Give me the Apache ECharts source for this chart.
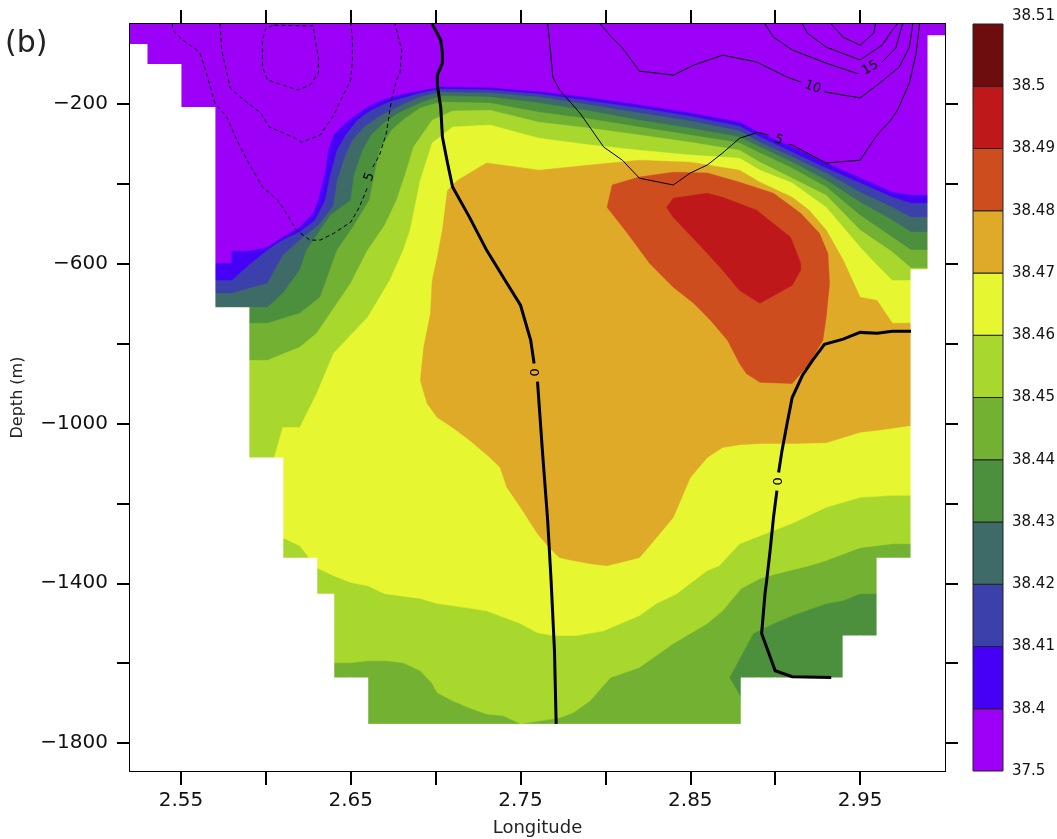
<!DOCTYPE html>
<html>
<head>
<meta charset="utf-8">
<title>Salinity section (b)</title>
<script src="https://cdn.jsdelivr.net/npm/echarts@6/dist/echarts.min.js"></script>
<style>
  html, body { margin: 0; padding: 0; background: #fff; }
  #main { width: 1057px; height: 839px; }
</style>
</head>
<body>
<div id="main"></div>
<script>
// ---- escala de cores (salinidade) ----
var cbarLabels = ['37.5', '38.4', '38.41', '38.42', '38.43', '38.44', '38.45', '38.46', '38.47', '38.48', '38.49', '38.5', '38.51'];
var bandColors = ['#9c00f6', '#4700f6', '#3b40ab', '#3e6b68', '#4c8f3d', '#72b132', '#a8d72e', '#e6f731', '#dfaa28', '#cd4d1f', '#bf181b', '#6e0d0d'];

// ---- eixos ----
var lonTicks = [2.55, 2.60, 2.65, 2.70, 2.75, 2.80, 2.85, 2.90, 2.95];
var lonLabels = [2.55, 2.65, 2.75, 2.85, 2.95];
var depthTicks = [-1800, -1600, -1400, -1200, -1000, -800, -600, -400, -200];
var depthLabels = [-1800, -1400, -1000, -600, -200];

// ---- isolinhas da salinidade [lon, prof] (regiao S >= nivel) ----
var iso3840 = [[2.56,-599],[2.58,-599],[2.58,-569],[2.59,-569],[2.601,-559],[2.61,-534],[2.62,-509],[2.628,-474],[2.631,-441],[2.635,-373],[2.637,-316],[2.64,-278],[2.647,-248],[2.66,-208],[2.669,-190],[2.679,-178],[2.691,-168],[2.703,-158],[2.732,-160],[2.761,-170],[2.791,-185],[2.82,-203],[2.85,-223],[2.879,-246],[2.891,-273],[2.91,-308],[2.93,-348],[2.95,-386],[2.969,-421],[2.98,-429],[3.0,-429],[3.0,-1870],[2.56,-1870]];
var iso3841 = [[2.56,-642],[2.58,-642],[2.59,-604],[2.601,-566],[2.61,-541],[2.62,-521],[2.629,-491],[2.635,-441],[2.638,-378],[2.642,-316],[2.647,-278],[2.654,-241],[2.662,-216],[2.673,-195],[2.691,-173],[2.703,-163],[2.732,-165],[2.761,-175],[2.791,-193],[2.82,-210],[2.85,-231],[2.879,-256],[2.891,-283],[2.91,-321],[2.93,-361],[2.95,-398],[2.969,-434],[2.98,-449],[3.0,-449],[3.0,-1870],[2.56,-1870]];
var iso3842 = [[2.56,-674],[2.58,-674],[2.601,-649],[2.61,-579],[2.62,-541],[2.631,-504],[2.64,-454],[2.642,-391],[2.647,-328],[2.651,-291],[2.658,-258],[2.667,-231],[2.679,-205],[2.691,-183],[2.703,-170],[2.732,-173],[2.761,-183],[2.791,-203],[2.82,-223],[2.85,-243],[2.879,-268],[2.891,-296],[2.91,-333],[2.93,-373],[2.95,-421],[2.969,-459],[2.98,-484],[3.0,-484],[3.0,-1870],[2.56,-1870]];
var iso3843 = [[2.56,-709],[2.601,-709],[2.61,-674],[2.62,-616],[2.624,-566],[2.638,-479],[2.65,-441],[2.652,-378],[2.657,-316],[2.662,-278],[2.67,-246],[2.679,-221],[2.691,-198],[2.703,-180],[2.732,-183],[2.761,-198],[2.791,-218],[2.82,-241],[2.85,-261],[2.879,-283],[2.891,-308],[2.91,-346],[2.93,-391],[2.95,-446],[2.969,-491],[2.98,-521],[3.0,-521],[3.0,-1870],[2.56,-1870]];
var iso3844 = [[2.56,-749],[2.601,-749],[2.62,-724],[2.632,-684],[2.642,-566],[2.652,-504],[2.661,-441],[2.664,-378],[2.667,-316],[2.674,-266],[2.682,-236],[2.691,-210],[2.703,-195],[2.732,-198],[2.761,-221],[2.791,-238],[2.82,-258],[2.85,-278],[2.879,-298],[2.891,-323],[2.91,-361],[2.93,-408],[2.95,-479],[2.969,-534],[2.98,-566],[3.0,-566],[3.0,-1426],[2.96,-1426],[2.95,-1426],[2.94,-1443],[2.93,-1451],[2.91,-1481],[2.899,-1501],[2.887,-1526],[2.873,-1636],[2.88,-1687],[2.88,-1870],[2.56,-1870]];
var iso3845 = [[2.56,-842],[2.601,-842],[2.62,-809],[2.63,-774],[2.65,-649],[2.66,-566],[2.67,-504],[2.677,-441],[2.682,-378],[2.687,-308],[2.698,-241],[2.71,-218],[2.732,-216],[2.761,-246],[2.791,-261],[2.82,-278],[2.85,-296],[2.879,-316],[2.891,-346],[2.91,-386],[2.93,-429],[2.95,-516],[2.969,-571],[2.98,-611],[3.0,-611],[3.0,-1301],[2.98,-1301],[2.969,-1301],[2.95,-1311],[2.93,-1343],[2.92,-1356],[2.901,-1376],[2.891,-1388],[2.88,-1413],[2.869,-1469],[2.86,-1501],[2.84,-1551],[2.82,-1611],[2.803,-1636],[2.791,-1694],[2.781,-1724],[2.773,-1737],[2.75,-1752],[2.74,-1732],[2.73,-1727],[2.72,-1712],[2.71,-1694],[2.701,-1674],[2.698,-1651],[2.691,-1619],[2.681,-1599],[2.671,-1594],[2.66,-1594],[2.65,-1599],[2.64,-1599],[2.56,-1599]];
var iso3846 = [[2.598,-1118],[2.605,-1085],[2.61,-1010],[2.62,-1010],[2.63,-925],[2.64,-824],[2.66,-734],[2.673,-642],[2.681,-566],[2.685,-516],[2.691,-391],[2.698,-298],[2.71,-258],[2.732,-253],[2.761,-286],[2.791,-303],[2.82,-316],[2.85,-328],[2.879,-336],[2.891,-366],[2.91,-398],[2.93,-459],[2.95,-559],[2.96,-604],[2.969,-642],[2.98,-642],[3.0,-642],[3.0,-1180],[2.98,-1180],[2.969,-1180],[2.95,-1185],[2.93,-1210],[2.91,-1250],[2.879,-1301],[2.867,-1356],[2.86,-1368],[2.842,-1426],[2.83,-1451],[2.82,-1481],[2.799,-1519],[2.783,-1531],[2.769,-1531],[2.76,-1524],[2.75,-1501],[2.73,-1469],[2.71,-1456],[2.701,-1451],[2.691,-1438],[2.67,-1426],[2.66,-1406],[2.65,-1398],[2.64,-1381],[2.63,-1361],[2.62,-1306],[2.61,-1286],[2.598,-1286]];
var iso3847 = [[2.691,-892],[2.693,-809],[2.697,-724],[2.698,-642],[2.701,-584],[2.704,-516],[2.707,-416],[2.713,-391],[2.73,-348],[2.761,-366],[2.791,-353],[2.82,-341],[2.85,-346],[2.879,-366],[2.891,-396],[2.91,-434],[2.92,-466],[2.93,-516],[2.94,-591],[2.95,-684],[2.96,-692],[2.969,-749],[2.98,-749],[3.0,-749],[3.0,-1005],[2.98,-1005],[2.96,-1017],[2.95,-1022],[2.93,-1048],[2.91,-1050],[2.891,-1050],[2.879,-1053],[2.869,-1060],[2.86,-1085],[2.85,-1135],[2.84,-1235],[2.83,-1286],[2.82,-1336],[2.801,-1356],[2.791,-1351],[2.781,-1343],[2.773,-1336],[2.767,-1311],[2.76,-1276],[2.75,-1210],[2.742,-1160],[2.738,-1110],[2.732,-1085],[2.72,-1042],[2.71,-1010],[2.701,-985],[2.695,-950]];
var iso3848 = [[2.801,-459],[2.804,-403],[2.82,-383],[2.84,-371],[2.86,-373],[2.879,-396],[2.899,-424],[2.915,-474],[2.926,-524],[2.931,-574],[2.932,-649],[2.93,-734],[2.928,-792],[2.92,-850],[2.91,-900],[2.891,-897],[2.883,-875],[2.879,-850],[2.872,-792],[2.862,-742],[2.852,-699],[2.84,-659],[2.826,-599],[2.813,-524]];
var iso3849 = [[2.836,-459],[2.84,-436],[2.86,-424],[2.869,-434],[2.889,-466],[2.909,-534],[2.915,-599],[2.915,-616],[2.91,-654],[2.891,-699],[2.879,-667],[2.869,-616],[2.86,-574],[2.84,-484]];

// ---- fundo sem dados (coluna: lon inicial, profundidade do fundo) ----
var colLon = [2.52,2.53,2.54,2.55,2.56,2.57,2.58,2.59,2.60,2.61,2.62,2.63,2.64,2.65,2.66,2.67,2.68,2.69,2.70,2.71,2.72,2.73,2.74,2.75,2.76,2.77,2.78,2.79,2.80,2.81,2.82,2.83,2.84,2.85,2.86,2.87,2.88,2.89,2.90,2.91,2.92,2.93,2.94,2.95,2.96,2.97,2.98,2.99];
var colBottom = [-50,-100,-100,-208,-208,-709,-709,-1085,-1085,-1336,-1336,-1426,-1636,-1636,-1752,-1752,-1752,-1752,-1752,-1752,-1752,-1752,-1752,-1752,-1752,-1752,-1752,-1752,-1752,-1752,-1752,-1752,-1752,-1752,-1752,-1752,-1636,-1636,-1636,-1636,-1636,-1636,-1531,-1531,-1336,-1336,-614,-28];

// ---- isolinhas de velocidade ----
var vel0aTop = [[2.698,0],[2.703,-40],[2.704,-73],[2.704,-98],[2.701,-128],[2.701,-153],[2.703,-208],[2.704,-283],[2.707,-348],[2.71,-408],[2.72,-484],[2.73,-566],[2.741,-642],[2.75,-704],[2.756,-792],[2.758,-850]];
var vel0aBot = [[2.76,-895],[2.763,-1075],[2.766,-1243],[2.768,-1393],[2.77,-1569],[2.771,-1752]];
var vel0bTop = [[2.98,-769],[2.969,-769],[2.96,-774],[2.95,-772],[2.94,-789],[2.929,-802],[2.922,-842],[2.916,-880],[2.91,-935],[2.907,-1000],[2.904,-1068],[2.902,-1123]];
var vel0bBot = [[2.901,-1168],[2.899,-1235],[2.897,-1318],[2.895,-1393],[2.894,-1426],[2.892,-1526],[2.9,-1619],[2.91,-1634],[2.933,-1636]];
var vel5a = [[2.766,0],[2.767,-40],[2.769,-133],[2.773,-165],[2.785,-223],[2.799,-308],[2.81,-341],[2.82,-386],[2.84,-403],[2.85,-373],[2.86,-353],[2.869,-323],[2.879,-286],[2.89,-271],[2.896,-278]];
var vel5b = [[2.908,-301],[2.91,-303],[2.93,-348],[2.95,-341],[2.96,-278],[2.968,-241],[2.972,-216],[2.979,-148],[2.983,-73],[2.985,0]];
var vel10a = [[2.797,0],[2.803,-30],[2.81,-60],[2.82,-118],[2.84,-128],[2.852,-103],[2.869,-78],[2.889,-95],[2.907,-133],[2.915,-145]];
var vel10b = [[2.929,-170],[2.95,-185],[2.96,-153],[2.973,-108],[2.979,-58],[2.981,0]];
var vel15a = [[2.894,0],[2.899,-33],[2.91,-65],[2.93,-98],[2.949,-125]];
var vel15b = [[2.963,-95],[2.971,-60],[2.975,0]];
var vel20 = [[2.916,0],[2.919,-23],[2.93,-58],[2.95,-90],[2.963,-53],[2.969,-15],[2.972,0]];
var vel25 = [[2.933,0],[2.94,-33],[2.95,-53],[2.958,-23],[2.959,0]];
var velNeg1a = [[2.545,0],[2.545,-15],[2.551,-40],[2.561,-70],[2.565,-123],[2.57,-198],[2.577,-233],[2.583,-291],[2.589,-341],[2.598,-408],[2.607,-441],[2.611,-466],[2.618,-516],[2.626,-541],[2.632,-541],[2.64,-524],[2.65,-496],[2.655,-459],[2.66,-408]];
var velNeg1b = [[2.663,-358],[2.667,-328],[2.671,-273],[2.674,-190],[2.677,-140],[2.679,-123],[2.68,-65],[2.677,-15],[2.676,0]];
var velNeg2 = [[2.573,0],[2.574,-65],[2.579,-160],[2.587,-190],[2.597,-223],[2.602,-258],[2.616,-283],[2.621,-296],[2.632,-278],[2.64,-228],[2.645,-183],[2.65,-140],[2.651,-90],[2.651,-40],[2.65,0]];
var velNeg3 = [[2.605,-3],[2.628,-5],[2.629,-40],[2.631,-83],[2.631,-123],[2.626,-153],[2.619,-165],[2.61,-153],[2.601,-140],[2.598,-108],[2.598,-40],[2.6,-10],[2.605,-3]];

// rotulos das isolinhas [lon, prof, texto]
var velLabels = [[2.759,-872,'0'],[2.902,-1145,'0'],[2.902,-290,'5'],[2.922,-158,'10'],[2.956,-110,'15'],[2.661,-383,'5']];
var velLabelAngles = [90, 90, -22, -20, 30, 70];

var fonte = 'DejaVu Sans';
var fills = [
  {pts: [[2.52,0],[3.0,0],[3.0,-1870],[2.52,-1870]], color: bandColors[0]},
  {pts: iso3840, color: bandColors[1]},
  {pts: iso3841, color: bandColors[2]},
  {pts: iso3842, color: bandColors[3]},
  {pts: iso3843, color: bandColors[4]},
  {pts: iso3844, color: bandColors[5]},
  {pts: iso3845, color: bandColors[6]},
  {pts: iso3846, color: bandColors[7]},
  {pts: iso3847, color: bandColors[8]},
  {pts: iso3848, color: bandColors[9]},
  {pts: iso3849, color: bandColors[10]}
];

var linhas = [
  {c: vel0aTop, w: 3, t: 'solid'}, {c: vel0aBot, w: 3, t: 'solid'},
  {c: vel0bTop, w: 3, t: 'solid'}, {c: vel0bBot, w: 3, t: 'solid'},
  {c: vel5a, w: 1, t: 'solid'}, {c: vel5b, w: 1, t: 'solid'},
  {c: vel10a, w: 1, t: 'solid'}, {c: vel10b, w: 1, t: 'solid'},
  {c: vel15a, w: 1, t: 'solid'}, {c: vel15b, w: 1, t: 'solid'},
  {c: vel20, w: 1, t: 'solid'}, {c: vel25, w: 1, t: 'solid'},
  {c: velNeg1a, w: 1, t: [4, 3]}, {c: velNeg1b, w: 1, t: [4, 3]},
  {c: velNeg2, w: 1, t: [4, 3]}, {c: velNeg3, w: 1, t: [4, 3]}
];

var fmtLon = function(v){ return v.toFixed(2); };
var fmtDepth = function(v){ return String(Math.round(v)).replace('-', '\u2212'); };

var myChart = echarts.init(document.getElementById('main'));

var option = {
  animation: false,
  backgroundColor: '#fff',
  title: {
    text: '(b)', left: 0, top: 24,
    textStyle: {fontFamily: fonte, fontSize: 30, fontWeight: 'normal', color: '#222'}
  },
  grid: [
    {left: 130, top: 24, width: 815, height: 747, outerBoundsMode: 'none', containLabel: false},
    {left: 973, top: 24, width: 30, height: 747, outerBoundsMode: 'none', containLabel: false}
  ],
  xAxis: [
    {
      type: 'value', gridIndex: 0, min: 2.52, max: 3.0, position: 'bottom',
      name: 'Longitude', nameLocation: 'middle', nameGap: 48,
      nameTextStyle: {fontFamily: fonte, fontSize: 18, color: '#222'},
      axisLine: {onZero: false, lineStyle: {color: '#000', width: 2}},
      axisTick: {customValues: lonTicks, length: 14, lineStyle: {color: '#000', width: 2}},
      axisLabel: {customValues: lonLabels, formatter: fmtLon, margin: 20, fontFamily: fonte, fontSize: 20, color: '#111'},
      splitLine: {show: false}
    },
    {
      type: 'value', gridIndex: 0, min: 2.52, max: 3.0, position: 'top',
      axisLine: {onZero: false, lineStyle: {color: '#000', width: 2}},
      axisTick: {customValues: lonTicks, length: 14, lineStyle: {color: '#000', width: 2}},
      axisLabel: {show: false}, splitLine: {show: false}
    },
    {type: 'value', gridIndex: 1, min: 0, max: 1, show: false}
  ],
  yAxis: [
    {
      type: 'value', gridIndex: 0, min: -1870, max: 0, position: 'left',
      name: 'Depth (m)', nameLocation: 'middle', nameGap: 104, nameRotate: 90,
      nameTextStyle: {fontFamily: fonte, fontSize: 16, color: '#222'},
      axisLine: {onZero: false, lineStyle: {color: '#000', width: 2}},
      axisTick: {customValues: depthTicks, length: 13, lineStyle: {color: '#000', width: 2}},
      axisLabel: {customValues: depthLabels, formatter: fmtDepth, margin: 22, fontFamily: fonte, fontSize: 20, color: '#111'},
      splitLine: {show: false}
    },
    {
      type: 'value', gridIndex: 0, min: -1870, max: 0, position: 'right',
      axisLine: {onZero: false, lineStyle: {color: '#000', width: 2}},
      axisTick: {customValues: depthTicks, length: 13, lineStyle: {color: '#000', width: 2}},
      axisLabel: {show: false}, splitLine: {show: false}
    },
    {
      type: 'value', gridIndex: 1, min: 0, max: 12, position: 'right',
      axisLine: {show: false}, axisTick: {show: false}, splitLine: {show: false},
      axisLabel: {
        customValues: [0,1,2,3,4,5,6,7,8,9,10,11,12],
        formatter: function(v){
          var i = Math.round(v);
          return i === 12 ? '{t|' + cbarLabels[i] + '}' : cbarLabels[i];
        },
        rich: {t: {fontFamily: fonte, fontSize: 15, color: '#111', padding: [0, 0, 16, 0]}},
        margin: 9, fontFamily: fonte, fontSize: 15, color: '#111'
      }
    }
  ],
  series: [
    {
      // areas preenchidas da salinidade
      type: 'custom', xAxisIndex: 0, yAxisIndex: 0, clip: true, silent: true,
      data: fills.map(function(f, i){ return [i]; }),
      renderItem: function(params, api){
        var f = fills[params.dataIndex];
        return {
          type: 'polygon',
          shape: {points: f.pts.map(function(p){ return api.coord(p); })},
          style: {fill: f.color, stroke: f.color, lineWidth: 0.5}
        };
      }
    },
    {
      // celulas sem dados (fundo)
      type: 'custom', xAxisIndex: 0, yAxisIndex: 0, clip: true, silent: true,
      data: colLon.map(function(v, i){ return [v, colBottom[i]]; }),
      renderItem: function(params, api){
        var a = api.coord([api.value(0), api.value(1)]);
        var b = api.coord([api.value(0) + 0.01, -1870]);
        return {
          type: 'rect',
          shape: {x: a[0] - 0.5, y: a[1], width: b[0] - a[0] + 1, height: b[1] - a[1] + 1},
          style: {fill: '#fff'}
        };
      }
    },
    {
      type: 'lines', coordinateSystem: 'cartesian2d', xAxisIndex: 0, yAxisIndex: 0,
      polyline: true, silent: true,
      data: linhas.map(function(l){
        return {coords: l.c, lineStyle: {color: '#000', width: l.w, type: l.t, opacity: 1}};
      })
    },
    {
      // rotulos das isolinhas
      type: 'custom', xAxisIndex: 0, yAxisIndex: 0, silent: true,
      data: velLabels,
      renderItem: function(params, api){
        var p = api.coord([api.value(0), api.value(1)]);
        return {
          type: 'text', x: p[0], y: p[1],
          rotation: velLabelAngles[params.dataIndex] * Math.PI / 180,
          style: {text: velLabels[params.dataIndex][2], fontFamily: fonte, fontSize: 13, fill: '#000', align: 'center', verticalAlign: 'middle'}
        };
      }
    },
    {
      // barra de cores
      type: 'custom', xAxisIndex: 2, yAxisIndex: 2, silent: true,
      data: bandColors.map(function(c, i){ return [i]; }),
      renderItem: function(params, api){
        var i = params.dataIndex;
        var a = api.coord([0, i + 1]);
        var b = api.coord([1, i]);
        return {
          type: 'rect',
          shape: {x: a[0], y: a[1], width: b[0] - a[0], height: b[1] - a[1]},
          style: {fill: bandColors[i], stroke: '#222', lineWidth: 1}
        };
      }
    }
  ]
};
// aplico as opcoes no grafico
myChart.setOption(option);
</script>
</body>
</html>
